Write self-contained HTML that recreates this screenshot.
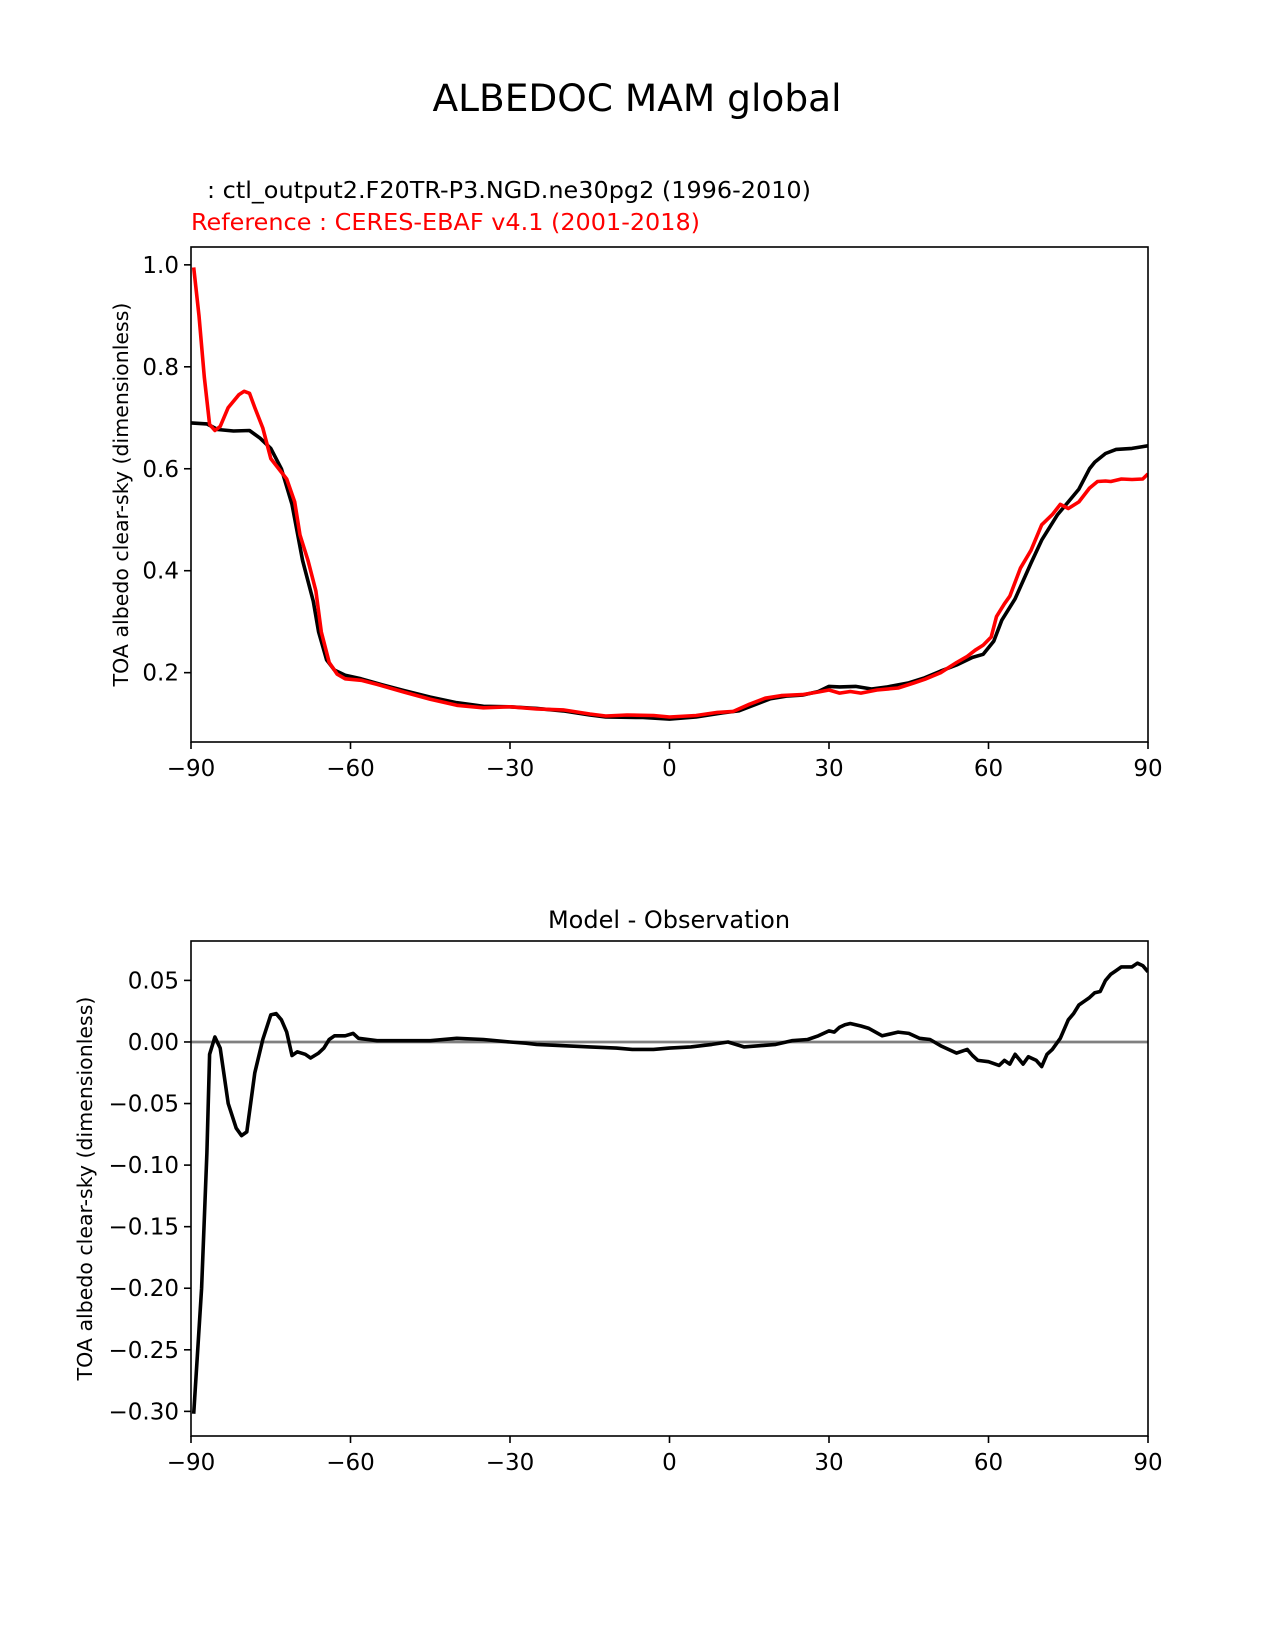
<!DOCTYPE html>
<html><head><meta charset="utf-8"><style>
html,body{margin:0;padding:0;background:#fff;}
svg{display:block;font-family:"DejaVu Sans","Liberation Sans",sans-serif;}
</style></head><body>
<svg id="fig" width="1275" height="1650" viewBox="0 0 1275 1650" xmlns="http://www.w3.org/2000/svg">
<rect width="1275" height="1650" fill="#fff"/>
<text x="637" y="111" font-size="37.5" text-anchor="middle">ALBEDOC MAM global</text>
<text x="207" y="198" font-size="23" textLength="604" lengthAdjust="spacingAndGlyphs">: ctl_output2.F20TR-P3.NGD.ne30pg2 (1996-2010)</text>
<text x="191" y="230" font-size="23" fill="#f00" textLength="509" lengthAdjust="spacingAndGlyphs">Reference : CERES-EBAF v4.1 (2001-2018)</text>
<text x="669" y="928" font-size="24" text-anchor="middle">Model - Observation</text>
<g id="top"></g>
<g id="bot"></g>
</svg>
<script>
const latModel=[-90,-87,-85,-82,-79,-77,-75,-73,-71,-69,-67,-66,-64.5,-63,-61,-58,-55,-50,-45,-40,-35,-30,-25,-20,-15,-12,-5,0,5,10,13,16,19,22,25,28,30,32,35,38,41,45,48,51,54,57,59,61,62.5,65,68,70,73,75,77,79,80,82,84,87,90];
const valModel=[0.69,0.688,0.677,0.674,0.675,0.66,0.64,0.60,0.53,0.42,0.34,0.28,0.225,0.205,0.195,0.188,0.179,0.165,0.152,0.141,0.134,0.133,0.13,0.125,0.117,0.113,0.112,0.109,0.113,0.121,0.125,0.137,0.149,0.154,0.156,0.163,0.173,0.172,0.173,0.168,0.172,0.18,0.19,0.203,0.215,0.23,0.236,0.262,0.303,0.345,0.415,0.46,0.51,0.535,0.56,0.60,0.613,0.63,0.638,0.64,0.645];
const latObs=[-89.5,-88.5,-87.5,-86.5,-85.5,-84.5,-83,-81,-80,-79,-78,-76.5,-75,-72,-70.5,-69.5,-68,-66.5,-65.5,-64,-62.5,-61,-58,-55,-50,-45,-40,-35,-30,-25,-20,-15,-12,-8,-3,0,5,9,12,15,18,21,25,28,30,32,34,36,39,43,46,48,51,54,56,57.5,59,60.5,61.5,63,64,66,68,70,72,73.5,75,77,79,80.5,82,83,85,87,89,90];
const valObs=[0.995,0.9,0.78,0.687,0.675,0.683,0.72,0.745,0.752,0.748,0.72,0.68,0.62,0.58,0.535,0.47,0.42,0.36,0.28,0.22,0.197,0.188,0.185,0.177,0.162,0.148,0.136,0.131,0.133,0.129,0.127,0.119,0.115,0.117,0.116,0.113,0.116,0.122,0.124,0.138,0.15,0.155,0.157,0.162,0.166,0.16,0.163,0.16,0.166,0.17,0.18,0.187,0.2,0.22,0.232,0.244,0.254,0.27,0.31,0.335,0.35,0.405,0.44,0.49,0.51,0.53,0.522,0.535,0.562,0.575,0.576,0.575,0.58,0.579,0.58,0.59];
const latDiff=[-89.5,-88,-87,-86.5,-85.5,-84.5,-83,-81.5,-80.5,-79.5,-78,-76.5,-75,-74,-73,-72,-71,-70,-68.5,-67.5,-66,-65,-64,-63,-61,-59.5,-58.5,-55,-50,-45,-40,-35,-30,-27,-25,-20,-15,-10,-7,-3,0,4,8,11,14,17,20,23,26,28,30,31,32,33,34,36,37.5,40,43,45,47,49,51,54,56,57,58,60,62,63,64,65,66.5,67.5,69,70,71,72,73.5,75,76,77,78,79,80,81,82,83,84,85,87,88,89,90];
const valDiff=[-0.302,-0.2,-0.09,-0.01,0.004,-0.005,-0.05,-0.07,-0.076,-0.073,-0.025,0.002,0.022,0.023,0.018,0.008,-0.011,-0.008,-0.01,-0.013,-0.009,-0.005,0.002,0.005,0.005,0.007,0.003,0.001,0.001,0.001,0.003,0.002,0.0,-0.001,-0.002,-0.003,-0.004,-0.005,-0.006,-0.006,-0.005,-0.004,-0.002,0.0,-0.004,-0.003,-0.002,0.001,0.002,0.005,0.009,0.008,0.012,0.014,0.015,0.013,0.011,0.005,0.008,0.007,0.003,0.002,-0.003,-0.009,-0.006,-0.011,-0.015,-0.016,-0.019,-0.015,-0.018,-0.01,-0.018,-0.012,-0.015,-0.020,-0.010,-0.006,0.003,0.018,0.023,0.03,0.033,0.036,0.04,0.041,0.05,0.055,0.058,0.061,0.061,0.064,0.062,0.057];
const xTicks=[-90,-60,-30,0,30,60,90];
const xTickLabels=["\u221290","\u221260","\u221230","0","30","60","90"];
const topYTicks=[0.2,0.4,0.6,0.8,1.0];
const topYTickLabels=["0.2","0.4","0.6","0.8","1.0"];
const botYTicks=[0.05,0,-0.05,-0.1,-0.15,-0.2,-0.25,-0.3];
const botYTickLabels=["0.05","0.00","\u22120.05","\u22120.10","\u22120.15","\u22120.20","\u22120.25","\u22120.30"];

const NS="http://www.w3.org/2000/svg";
function mk(parent,tag,attrs){const e=document.createElementNS(NS,tag);for(const k in attrs)e.setAttribute(k,attrs[k]);parent.appendChild(e);return e;}
const L=191,R=1148;
function xs(v){return L+(v+90)/180*(R-L);}

function panel(g,top,bottom,ymin,ymax,yt,ytl,ylabelX,ylabel,name){
  const ys=v=>bottom-(v-ymin)/(ymax-ymin)*(bottom-top);
  xTicks.forEach((t,i)=>{
    const x=xs(t);
    const tk=mk(g,'line',{x1:x,x2:x,y1:bottom,y2:bottom+7,stroke:'#000','stroke-width':1.6});
    
    
    const tl=mk(g,'text',{x:x,y:bottom+34,'font-size':23,'text-anchor':'middle'});
    tl.textContent=xTickLabels[i];
    
    
  });
  yt.forEach((t,i)=>{
    const y=ys(t);
    const tk=mk(g,'line',{x1:L-7,x2:L,y1:y,y2:y,stroke:'#000','stroke-width':1.6});
    
    
    const tl=mk(g,'text',{x:L-12,y:y+8,'font-size':23,'text-anchor':'end'});
    tl.textContent=ytl[i];
    
    
  });
  const yl=mk(g,'text',{x:ylabelX,y:(top+bottom)/2,'font-size':20.5,'text-anchor':'middle',transform:`rotate(-90 ${ylabelX} ${(top+bottom)/2})`});
  yl.textContent=ylabel;
  
  
  return ys;
}
function line(g,lats,vals,xsf,ysf,color,w,name){
  const d=lats.map((la,i)=>(i?'L':'M')+xsf(la).toFixed(1)+','+ysf(vals[i]).toFixed(1)).join(' ');
  const p=mk(g,'path',{d:d,fill:'none',stroke:color,'stroke-width':w,'stroke-linejoin':'round'});
  
  
}
const ylab="TOA albedo clear-sky (dimensionless)";
const gt=document.getElementById('top');
const ysT=panel(gt,247,742,0.064,1.035,topYTicks,topYTickLabels,128,ylab,'top');
const clipT=mk(gt,'clipPath',{id:'ct'});mk(clipT,'rect',{x:L,y:247,width:R-L,height:495});
const gtl=mk(gt,'g',{'clip-path':'url(#ct)'});
line(gtl,latModel,valModel,xs,ysT,'#000',3.6,'model-line');
line(gtl,latObs,valObs,xs,ysT,'#f00',3.6,'reference-line');
const ft=mk(gt,'rect',{x:L,y:247,width:R-L,height:495,fill:'none',stroke:'#000','stroke-width':1.6});



const gb=document.getElementById('bot');
const ysB=panel(gb,941,1436,-0.320,0.082,botYTicks,botYTickLabels,92,ylab,'diff');
const zl=mk(gb,'line',{x1:L,x2:R,y1:ysB(0),y2:ysB(0),stroke:'#808080','stroke-width':2.8});


const clipB=mk(gb,'clipPath',{id:'cb'});mk(clipB,'rect',{x:L,y:941,width:R-L,height:495});
const gbl=mk(gb,'g',{'clip-path':'url(#cb)'});
line(gbl,latDiff,valDiff,xs,ysB,'#000',3.6,'difference-line');
const fb=mk(gb,'rect',{x:L,y:941,width:R-L,height:495,fill:'none',stroke:'#000','stroke-width':1.6});


</script>
</body></html>
